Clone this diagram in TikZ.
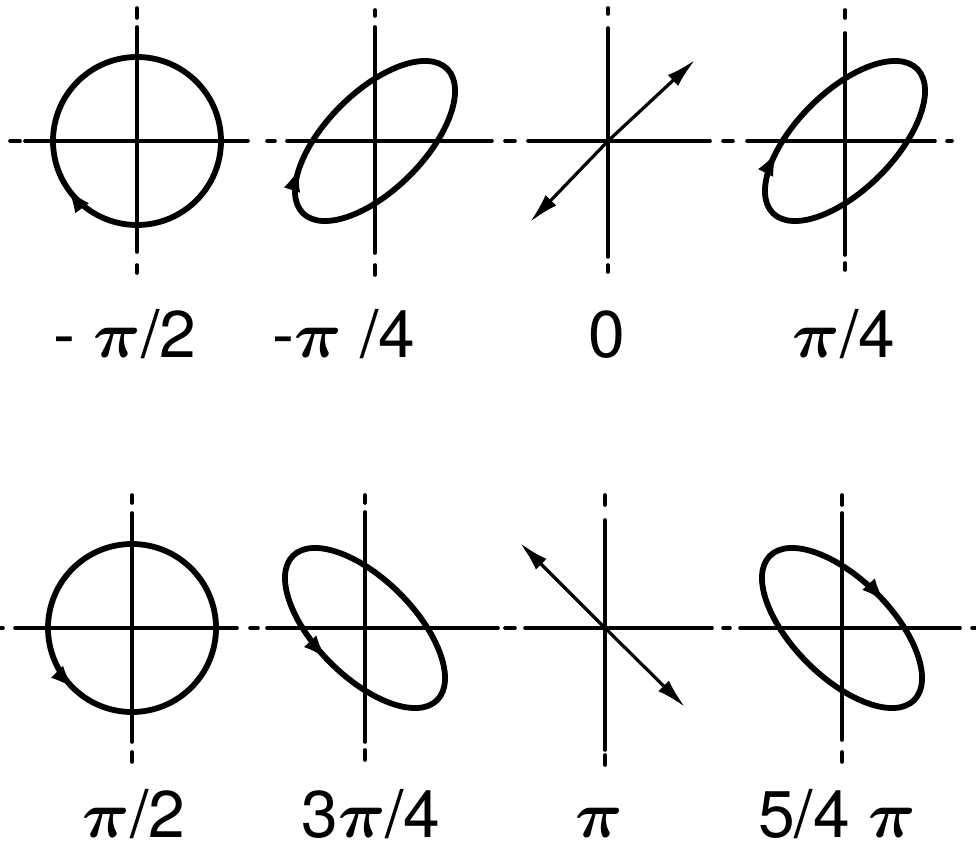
\RequirePackage{fix-cm}
\documentclass[tikz,border=0pt]{standalone}
\usepackage{fontspec}
\setmainfont{TeX Gyre Heros}
\usepackage{bm}
\usetikzlibrary{arrows.meta,decorations.markings}

\tikzset{
  axis/.style={line width=3.6pt, line cap=round},
  curve/.style={line width=5.8pt},
  vec/.style={line width=3.2pt, -{Latex[length=30pt,width=15pt]}},
  lab/.style={anchor=base, inner sep=0pt, font=\fontsize{66}{70}\selectfont},
  fwd/.style={postaction={decorate,decoration={markings,mark=at position #1 with {\arrow[line width=1pt]{Latex[length=22pt,width=17pt]}}}}},
  bwd/.style={postaction={decorate,decoration={markings,mark=at position #1 with {\arrowreversed[line width=1pt]{Latex[length=22pt,width=17pt]}}}}},
}

\begin{document}
\begin{tikzpicture}[x=1pt,y=1pt]
\useasboundingbox (0,0) rectangle (976,852);

% centres
\coordinate (c1) at (137,711);
\coordinate (c2) at (375,711);
\coordinate (c3) at (608,711);
\coordinate (c4) at (845,711);
\coordinate (c5) at (132,224);
\coordinate (c6) at (365,224);
\coordinate (c7) at (605,224);
\coordinate (c8) at (842,224);

% top row horizontal dash-dot axis
\foreach \a/\b in {10/20,25/248,267/275,287/492,505/515,528/710,723/733,747/935,947/952}
  \draw[axis] (\a,711) -- (\b,711);
% bottom row horizontal dash-dot axis
\foreach \a/\b in {0/3,15/237,250/258,267/498,505/515,525/712,723/730,740/960,972/976}
  \draw[axis] (\a,224) -- (\b,224);

% vertical axes, top row
\foreach \x/\ta/\tb/\la/\lb/\ba/\bb in {137/834/844/600/825/579/587, 375/836/842/599/825/577/587, 608/838/844/595/824/580/587, 845/834/842/597/819/582/589}
{
  \draw[axis] (\x,\ta) -- (\x,\tb);
  \draw[axis] (\x,\la) -- (\x,\lb);
  \draw[axis] (\x,\ba) -- (\x,\bb);
}
% vertical axes, bottom row
\foreach \x/\ta/\tb/\la/\lb/\ba/\bb in {132/349/357/110/339/90/100, 365/349/357/110/340/92/102, 605/347/357/102/332/87/97, 842/347/357/112/339/90/100}
{
  \draw[axis] (\x,\ta) -- (\x,\tb);
  \draw[axis] (\x,\la) -- (\x,\lb);
  \draw[axis] (\x,\ba) -- (\x,\bb);
}

% figures
\draw[curve, bwd=0.60] (c1) circle [radius=84];
\draw[curve, rotate around={45:(c2)}, bwd=0.405] (c2) ellipse [x radius=102, y radius=49];
\coordinate (t3a) at (695,792);
\coordinate (t3b) at (530,630);
\draw[vec] (c3) -- (t3a);
\draw[vec] (c3) -- (t3b);
\draw[curve, rotate around={45:(c4)}, bwd=0.37] (c4) ellipse [x radius=102, y radius=49];

\draw[curve, fwd=0.625] (c5) circle [radius=84];
\draw[curve, rotate around={-45:(c6)}, fwd=0.735] (c6) ellipse [x radius=102, y radius=49];
\coordinate (t7a) at (520,309);
\coordinate (t7b) at (685,145);
\draw[vec] (c7) -- (t7a);
\draw[vec] (c7) -- (t7b);
\draw[curve, rotate around={-45:(c8)}, bwd=0.23] (c8) ellipse [x radius=102, y radius=49];

% labels
\node[lab] (l1) at (125,494) {- $\bm{\pi}$/2};
\node[lab] (l2) at (344,494) {-$\bm{\pi}$ /4};
\node[lab] (l3) at (607,494) {0};
\node[lab] (l4) at (844,494) {$\bm{\pi}$/4};
\node[lab] (l5) at (134,15) {$\bm{\pi}$/2};
\node[lab] (l6) at (371,15) {3$\bm{\pi}$/4};
\node[lab] (l7) at (599,15) {$\bm{\pi}$};
\node[lab] (l8) at (837,15) {5/4 $\bm{\pi}$};
\end{tikzpicture}
\end{document}
